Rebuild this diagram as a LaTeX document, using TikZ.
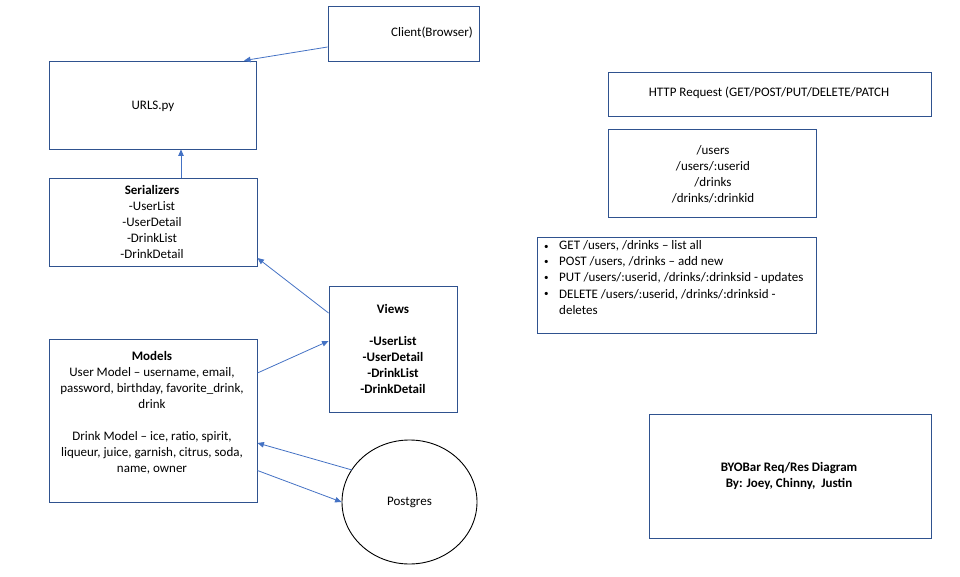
\documentclass[tikz,border=0pt]{standalone}
\usepackage{fontspec}
\setmainfont{Carlito}
\usetikzlibrary{arrows.meta,calc,shapes.geometric}
\definecolor{boxblue}{HTML}{2F528F}
\definecolor{arrblue}{HTML}{4472C4}
\newcommand{\mybul}{\makebox[15pt][l]{\raisebox{1pt}{\fontsize{9}{9}\selectfont •}}}
\begin{document}
\begin{tikzpicture}[x=1pt,y=-1pt,
  box/.style={draw=boxblue,line width=0.9pt,rectangle,inner sep=0pt},
  txt/.style={inner sep=0pt,align=center,font=\fontsize{13}{16}\selectfont},
  arr/.style={draw=arrblue,line width=0.8pt,-{Triangle[length=6.5pt,width=5.5pt]}}]
\useasboundingbox (0,0) rectangle (960,577);
% boxes
\node[box,minimum width=151pt,minimum height=55pt] (client) at (403.5,33.5) {};
\node[txt] (clienttxt) at (432,33) {Client(Browser)};
\node[box,minimum width=207pt,minimum height=88pt] (urls) at (153,105) {};
\node[txt] (urlstxt) at (153,106) {URLS.py};
\node[box,minimum width=208pt,minimum height=88pt] (ser) at (153,222) {};
\node[txt] (sertxt) at (152,221.5) {\textbf{Serializers}\\-UserList\\-UserDetail\\-DrinkList\\-DrinkDetail};
\node[box,minimum width=128pt,minimum height=126pt] (views) at (393,349) {};
\node[txt,font=\fontsize{13}{16}\selectfont\bfseries] (viewstxt) at (393,348.5) {Views\\[16pt]-UserList\\-UserDetail\\-DrinkList\\-DrinkDetail};
\node[box,minimum width=208pt,minimum height=163pt] (models) at (153,420.5) {};
\node[txt] (modelstxt) at (152,412.5) {\textbf{Models}\\User Model -- username, email,\\password, birthday, favorite\_drink,\\drink\\[16pt]Drink Model -- ice, ratio, spirit,\\liqueur, juice, garnish, citrus, soda,\\name, owner};
\node[draw=black,line width=0.9pt,ellipse,minimum width=135pt,minimum height=124pt,inner sep=0pt,font=\fontsize{13}{16}\selectfont] (pg) at (409.5,502) {Postgres};
\node[box,minimum width=323pt,minimum height=44pt] (http) at (769.5,94) {};
\node[txt] (httptxt) at (769,93) {HTTP Request (GET/POST/PUT/DELETE/PATCH};
\node[box,minimum width=208pt,minimum height=88pt] (routes) at (712,173) {};
\node[txt] (routestxt) at (713,174) {/users\\/users/:userid\\/drinks\\/drinks/:drinkid};
\node[box,minimum width=279pt,minimum height=96pt] (bul) at (676.5,285) {};
\node[inner sep=0pt,anchor=base west,font=\fontsize{13}{16}\selectfont] (bultxt) at (544,250) {\begin{tabular}[t]{@{}l@{}l@{}}
\mybul & GET /users, /drinks -- list all\\
\mybul & POST /users, /drinks -- add new\\
\mybul & PUT /users/:userid, /drinks/:drinksid - updates\\
\mybul & DELETE /users/:userid, /drinks/:drinksid -\\
 & deletes
\end{tabular}};
\node[box,minimum width=282pt,minimum height=124pt] (title) at (790,476) {};
\node[txt,font=\fontsize{13}{16}\selectfont\bfseries] (titletxt) at (789,475.5) {BYOBar Req/Res Diagram\\By: Joey, Chinny,\ \ Justin};
% connectors
\draw[arr] ([yshift=-13.5pt]client.west) -- ([xshift=91pt]urls.north);
\draw[arr] ([xshift=28pt]ser.north) -- ([xshift=28pt]urls.south);
\draw[arr] ([yshift=36pt]views.west) -- ([yshift=-36pt]ser.east);
\draw[arr] ([yshift=47.5pt]models.east) -- ([yshift=8pt]views.west);
\draw[arr] ([xshift=-57.5pt,yshift=32pt]pg.center) -- ([yshift=-22.5pt]models.east);
\draw[arr] ([yshift=-50pt]models.east) -- (pg.west);
\end{tikzpicture}
\end{document}
